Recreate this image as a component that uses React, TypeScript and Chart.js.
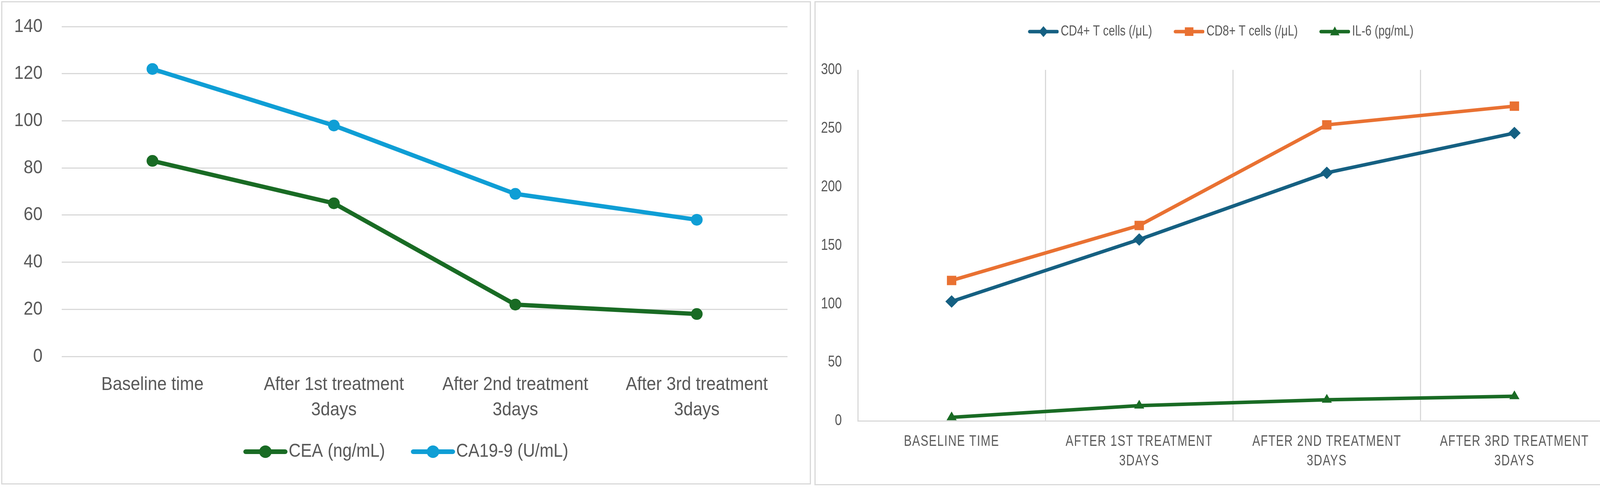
import React, { useEffect, useRef } from 'react';
import { Chart, registerables, CategoryScale } from 'chart.js';

Chart.register(...registerables);

class SpacedCategoryScale extends CategoryScale {
  static id = 'spacedCategory';
  static defaults = CategoryScale.defaults;
  drawLabels(chartArea: any) {
    const ctx: any = this.ctx;
    ctx.save();
    ctx.letterSpacing = '2px';
    super.drawLabels(chartArea);
    ctx.restore();
  }
}
Chart.register(SpacedCategoryScale as any);

// ---------- data ----------
const categories: (string | string[])[] = [
  'Baseline time',
  ['After 1st treatment', '3days'],
  ['After 2nd treatment', '3days'],
  ['After 3rd treatment', '3days'],
];
const ceaValues = [83, 65, 22, 18];
const ca199Values = [122, 98, 69, 58];
const leftTicks = { min: 0, max: 140, step: 20 };

const cd4Values = [102, 155, 212, 246];
const cd8Values = [120, 167, 253, 269];
const il6Values = [3, 13, 18, 21];
const rightTicks = { min: 0, max: 300, step: 50 };

const seriesLeft = ['CEA (ng/mL)', 'CA19-9 (U/mL)'];
const seriesRight = ['CD4+ T cells (/μL)', 'CD8+ T cells (/μL)', 'IL-6 (pg/mL)'];

// ---------- styles ----------
const FONT = "'Liberation Sans', Arial, sans-serif";
const TEXT = '#595959';
const GRID = '#d9d9d9';
const GREEN = '#196B24';
const BLUE = '#0F9ED5';
const TEAL = '#156082';
const ORANGE = '#E97132';

// narrow-font emulation: horizontally condense every text drawn on this context
function condense(ctx: any, k: number) {
  const proto: any = CanvasRenderingContext2D.prototype;
  ctx.fillText = function (t: string, x: number, y: number, mw?: number) {
    this.save();
    this.translate(x, y);
    this.scale(k, 1);
    if (mw === undefined) proto.fillText.call(this, t, 0, 0);
    else proto.fillText.call(this, t, 0, 0, mw / k);
    this.restore();
  };
  ctx.measureText = function (t: string) {
    const m = proto.measureText.call(this, t);
    return {
      width: m.width * k,
      actualBoundingBoxLeft: m.actualBoundingBoxLeft * k,
      actualBoundingBoxRight: m.actualBoundingBoxRight * k,
      actualBoundingBoxAscent: m.actualBoundingBoxAscent,
      actualBoundingBoxDescent: m.actualBoundingBoxDescent,
      fontBoundingBoxAscent: m.fontBoundingBoxAscent,
      fontBoundingBoxDescent: m.fontBoundingBoxDescent,
    };
  };
}

function makeMarker(color: string, W: number, H: number, L: number, lineW: number, shape: string, size: number) {
  const c = document.createElement('canvas');
  c.width = W;
  c.height = H;
  const ctx = c.getContext('2d')!;
  const cy = H / 2;
  const x0 = W - L;
  ctx.strokeStyle = color;
  ctx.lineWidth = lineW;
  ctx.lineCap = 'round';
  ctx.beginPath();
  ctx.moveTo(x0 + lineW / 2, cy);
  ctx.lineTo(W - lineW / 2, cy);
  ctx.stroke();
  const cx = W - L / 2;
  ctx.fillStyle = color;
  ctx.beginPath();
  if (shape === 'circle') {
    ctx.arc(cx, cy, size, 0, Math.PI * 2);
  } else if (shape === 'diamond') {
    ctx.moveTo(cx, cy - size);
    ctx.lineTo(cx + size * 0.85, cy);
    ctx.lineTo(cx, cy + size);
    ctx.lineTo(cx - size * 0.85, cy);
    ctx.closePath();
  } else if (shape === 'square') {
    ctx.rect(cx - size, cy - size, size * 2, size * 2);
  } else if (shape === 'triangle') {
    ctx.moveTo(cx, cy - size * 1.1);
    ctx.lineTo(cx + size, cy + size * 0.8);
    ctx.lineTo(cx - size, cy + size * 0.8);
    ctx.closePath();
  }
  ctx.fill();
  return c;
}

function legendLabels(markers: HTMLCanvasElement[]) {
  return (chart: any) => {
    const base = (Chart as any).defaults.plugins.legend.labels.generateLabels(chart);
    return base.map((item: any, i: number) => ({ ...item, pointStyle: markers[i], lineWidth: 0 }));
  };
}

function buildLeft(): any {
  const f = 48, L = 113, g = 3, G = 66, p = 10;
  const B = G + L + g - f / 2 - p;
  const W = B + f - 2 * g;
  const markers = [
    makeMarker(GREEN, W, 40, L, 12, 'circle', 16),
    makeMarker(BLUE, W, 40, L, 12, 'circle', 16),
  ];
  return {
    type: 'line',
    data: {
      labels: categories,
      datasets: [
        {
          label: seriesLeft[0], data: ceaValues, borderColor: GREEN, backgroundColor: GREEN,
          borderWidth: 11, pointRadius: 15, pointStyle: 'circle', pointBackgroundColor: GREEN,
          pointBorderColor: GREEN, pointBorderWidth: 0, tension: 0,
        },
        {
          label: seriesLeft[1], data: ca199Values, borderColor: BLUE, backgroundColor: BLUE,
          borderWidth: 11, pointRadius: 15, pointStyle: 'circle', pointBackgroundColor: BLUE,
          pointBorderColor: BLUE, pointBorderWidth: 0, tension: 0,
        },
      ],
    },
    options: {
      responsive: false,
      animation: false,
      devicePixelRatio: 1,
      layout: { padding: { left: 0, right: 57, top: 62, bottom: 47 } },
      scales: {
        x: {
          type: 'category',
          offset: true,
          grid: { display: false },
          border: { display: false },
          ticks: {
            color: TEXT, font: { family: FONT, size: 49, lineHeight: 65 / 49 }, padding: 31.5,
            maxRotation: 0, autoSkip: false,
          },
          afterFit: (s: any) => { s.height = 210; },
        },
        y: {
          min: leftTicks.min, max: leftTicks.max,
          ticks: {
            stepSize: leftTicks.step, color: TEXT, font: { family: FONT, size: 49, lineHeight: 0.4 }, padding: 49,
          },
          grid: { color: GRID, lineWidth: 3, drawTicks: false },
          border: { display: false },
          afterFit: (s: any) => { s.width = 152; },
        },
      },
      plugins: {
        tooltip: { enabled: false },
        legend: {
          position: 'bottom',
          labels: {
            color: TEXT, font: { family: FONT, size: f }, usePointStyle: true, pointStyleWidth: B,
            padding: p, generateLabels: legendLabels(markers),
          },
        },
      },
    },
  };
}

function buildRight(): any {
  const f = 37, L = 79, g = 5, G = 55, p = 10;
  const B = G + L + g - f / 2 - p;
  const W = B + f - 2 * g;
  const markers = [
    makeMarker(TEAL, W, 36, L, 9, 'diamond', 14),
    makeMarker(ORANGE, W, 36, L, 9, 'square', 11),
    makeMarker(GREEN, W, 36, L, 9, 'triangle', 12),
  ];
  const common = { borderWidth: 9, tension: 0, pointBorderWidth: 0 };
  return {
    type: 'line',
    data: {
      labels: categories,
      datasets: [
        {
          ...common, label: seriesRight[0], data: cd4Values, borderColor: TEAL, backgroundColor: TEAL,
          pointStyle: 'rectRot', pointRadius: 16, pointBackgroundColor: TEAL, pointBorderColor: TEAL,
        },
        {
          ...common, label: seriesRight[1], data: cd8Values, borderColor: ORANGE, backgroundColor: ORANGE,
          pointStyle: 'rect', pointRadius: 17, pointBackgroundColor: ORANGE, pointBorderColor: ORANGE,
        },
        {
          ...common, label: seriesRight[2], data: il6Values, borderColor: GREEN, backgroundColor: GREEN,
          pointStyle: 'triangle', pointRadius: 15, pointBackgroundColor: GREEN, pointBorderColor: GREEN,
        },
      ],
    },
    options: {
      responsive: false,
      animation: false,
      devicePixelRatio: 1,
      layout: { padding: { left: 0, right: 42, top: 46.5, bottom: 0 } },
      scales: {
        x: {
          type: 'spacedCategory',
          offset: true,
          grid: { display: true, offset: true, color: GRID, lineWidth: 3, drawTicks: false },
          border: { display: true, color: GRID, width: 3 },
          ticks: {
            color: TEXT, font: { family: FONT, size: 38, lineHeight: 50 / 38 }, padding: 29,
            maxRotation: 0, autoSkip: false,
            callback: (_v: any, i: number) => {
              const l = categories[i];
              return Array.isArray(l) ? l.map((s) => s.toUpperCase()) : l.toUpperCase();
            },
          },
          afterFit: (s: any) => { s.height = 162; },
        },
        y: {
          min: rightTicks.min, max: rightTicks.max,
          ticks: { stepSize: rightTicks.step, color: TEXT, font: { family: FONT, size: 41 }, padding: 33 },
          grid: { display: false },
          border: { display: false },
          afterFit: (s: any) => { s.width = 108; },
        },
      },
      plugins: {
        tooltip: { enabled: false },
        legend: {
          position: 'top',
          weight: 1000,
          labels: {
            color: TEXT, font: { family: FONT, size: f }, usePointStyle: true, pointStyleWidth: B,
            padding: p, generateLabels: legendLabels(markers),
          },
        },
        title: {
          display: true, text: '', position: 'top', weight: 500,
          font: { size: 10, lineHeight: 1 }, padding: { top: 0, bottom: 59.5 },
        },
      },
    },
  };
}

function ChartCanvas({ build, width, height, k }: { build: () => any; width: number; height: number; k: number }) {
  const ref = useRef<HTMLCanvasElement>(null);
  useEffect(() => {
    const canvas = ref.current!;
    condense(canvas.getContext('2d'), k);
    const chart = new Chart(canvas, build());
    return () => chart.destroy();
  }, []);
  return <canvas ref={ref} width={width} height={height} style={{ display: 'block', width, height }} />;
}

export default function App() {
  const panel: React.CSSProperties = {
    position: 'absolute',
    boxSizing: 'border-box',
    border: `3px solid ${GRID}`,
    background: '#ffffff',
  };
  return (
    <div style={{ position: 'absolute', left: 0, top: 0, width: 4167, height: 1250, background: '#ffffff' }}>
      <div style={{ ...panel, left: 3, top: 3, width: 2073, height: 1238 }}>
        <ChartCanvas build={buildLeft} width={2067} height={1232} k={0.89} />
      </div>
      <div style={{ ...panel, left: 2085, top: 3, width: 2077, height: 1240 }}>
        <ChartCanvas build={buildRight} width={2071} height={1234} k={0.78} />
      </div>
    </div>
  );
}
